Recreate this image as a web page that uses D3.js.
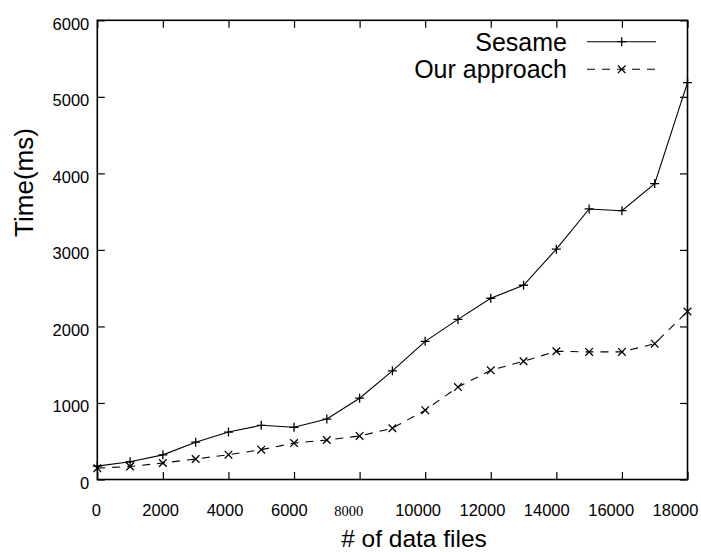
<!DOCTYPE html>
<html><head><meta charset="utf-8">
<script src="https://cdn.jsdelivr.net/npm/d3@7"></script>
<style>body{margin:0;background:#fff}</style>
</head><body>
<svg id="c" width="701" height="552"></svg>
<script>
const fileCounts = [0,1000,2000,3000,4000,5000,6000,7000,8000,9000,10000,11000,12000,13000,14000,15000,16000,17000,18000];
const sesame = [175,232,322,488,620,708,682,790,1062,1420,1805,2092,2368,2538,3010,3535,3512,3866,5185];
const ourApproach = [148,170,216,268,324,390,476,516,569,670,906,1208,1427,1545,1676,1667,1667,1775,2195];
const xTicks = [0,2000,4000,6000,8000,10000,12000,14000,16000,18000];
const yTicks = [0,1000,2000,3000,4000,5000,6000];
const seriesNames = ["Sesame","Our approach"];
const xTitle = "# of data files";
const yTitle = "Time(ms)";

const svg = d3.select("#c");
const L = 97.3, R = 687.5, T = 20.3, B = 479.5;
const x = d3.scaleLinear().domain([0,18000]).range([L,R]);
const y = d3.scaleLinear().domain([0,6000]).range([B,T]);
// label positions in the original spread slightly narrower than ticks
const xLab = d3.scaleLinear().domain([0,18000]).range([95.8,675]);
const sans = "'Liberation Sans', Arial, sans-serif";
const tk = 7.5;

// bottom axis
const gb = svg.append("g").attr("transform",`translate(0,${B})`)
  .call(d3.axisBottom(x).tickValues(xTicks).tickSize(-tk).tickFormat(d3.format("d")));
gb.selectAll("text").attr("y",36).attr("dy",0)
  .attr("x", d => xLab(d) - x(d) - (d === 8000 ? 5 : 0))
  .style("font-family", d => d === 8000 ? "'Liberation Serif', serif" : sans)
  .style("font-size", d => d === 8000 ? "14.5px" : "16.5px").attr("fill","#000");
// top axis
svg.append("g").attr("transform",`translate(0,${T})`)
  .call(d3.axisTop(x).tickValues(xTicks).tickSize(-tk).tickFormat(""));
// left axis
const gl = svg.append("g").attr("transform",`translate(${L},0)`)
  .call(d3.axisLeft(y).tickValues(yTicks).tickSize(-tk).tickFormat(d3.format("d")));
gl.selectAll("text").attr("x",-8).attr("dy","0.35em").attr("transform","translate(0,3)")
  .style("font-family",sans).style("font-size","16.5px").attr("fill","#000");
// right axis
svg.append("g").attr("transform",`translate(${R},0)`)
  .call(d3.axisRight(y).tickValues(yTicks).tickSize(-tk).tickFormat(""));
svg.selectAll(".domain").remove();
svg.selectAll(".tick line").attr("stroke","#000").attr("stroke-width",1.2);

svg.append("rect").attr("x",L).attr("y",T).attr("width",R-L).attr("height",B-T)
  .attr("fill","none").attr("stroke","#000").attr("stroke-width",1.6);

const plus = s => `M${-s},0H${s}M0,${-s}V${s}`;
const cross = s => `M${-s},${-s}L${s},${s}M${-s},${s}L${s},${-s}`;

const series = [
  {name: seriesNames[0], vals: sesame, dash: null, mk: plus(4.5)},
  {name: seriesNames[1], vals: ourApproach, dash: "8,7", mk: cross(3.8)}
];
const line = d3.line().x(d => x(d[0])).y(d => y(d[1]));
series.forEach((s,i) => {
  const pts = fileCounts.map((f,j) => [f, s.vals[j]]);
  svg.append("path").datum(pts).attr("d",line).attr("fill","none")
    .attr("stroke","#000").attr("stroke-width",1.1).attr("stroke-dasharray",s.dash);
  svg.append("g").selectAll("path").data(pts).join("path")
    .attr("transform", d => `translate(${x(d[0])},${y(d[1])})`)
    .attr("d", s.mk).attr("stroke","#000").attr("stroke-width",1.3).attr("fill","none");
  // legend
  const ly = i === 0 ? 41.7 : 69.3;
  svg.append("text").attr("x",567).attr("y",ly+9).attr("text-anchor","end")
    .style("font-family",sans).style("font-size","25px").text(s.name);
  svg.append("line").attr("x1",587).attr("x2",656).attr("y1",ly).attr("y2",ly)
    .attr("stroke","#000").attr("stroke-width",1.1).attr("stroke-dasharray",s.dash);
  svg.append("path").attr("transform",`translate(621.7,${ly})`).attr("d", s.mk)
    .attr("stroke","#000").attr("stroke-width",1.3);
});

svg.append("text").attr("x",414).attr("y",547).attr("text-anchor","middle")
  .style("font-family",sans).style("font-size","24.5px").text(xTitle);
svg.append("text").attr("transform","translate(33,182.5) rotate(-90)").attr("text-anchor","middle")
  .style("font-family",sans).style("font-size","26px").text(yTitle);
</script>
</body></html>
